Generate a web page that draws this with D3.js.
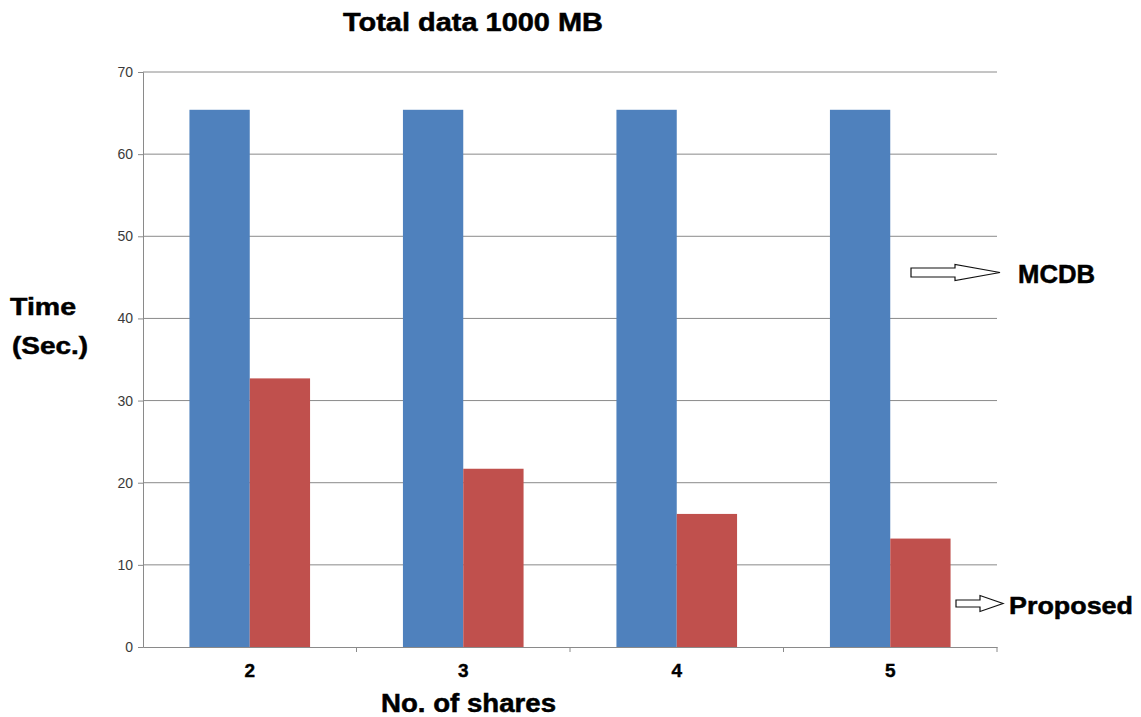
<!DOCTYPE html>
<html>
<head>
<meta charset="utf-8">
<script src="https://cdn.jsdelivr.net/npm/d3@7"></script>
<style>
  html, body { margin: 0; padding: 0; background: #fff; }
  svg text { font-family: "Liberation Sans", Arial, sans-serif; }
</style>
</head>
<body>
<svg id="chart" width="1141" height="717"></svg>
<script>
// Shares and timings (seconds) for 1000 MB of data
const shares = ["2", "3", "4", "5"];
const mcdbTimes = [65.4, 65.4, 65.4, 65.4];
const proposedTimes = [32.7, 21.7, 16.2, 13.2];
const yTicks = [0, 10, 20, 30, 40, 50, 60, 70];
const seriesNames = ["MCDB", "Proposed"];
const seriesColors = ["#4f81bd", "#c0504d"];

const svg = d3.select("#chart");
const plot = { left: 143, right: 997, top: 72, bottom: 647 };

const x = d3.scaleBand().domain(shares).range([plot.left, plot.right]).paddingInner(0).paddingOuter(0);
const y = d3.scaleLinear().domain([0, 70]).range([plot.bottom, plot.top]);
const inner = d3.scaleBand().domain(seriesNames).range([0, x.bandwidth()]).paddingOuter(0.77).paddingInner(0);

// horizontal gridlines
svg.append("g").selectAll("line").data(yTicks.filter(d => d > 0)).join("line")
  .attr("x1", plot.left).attr("x2", plot.right)
  .attr("y1", d => y(d)).attr("y2", d => y(d))
  .attr("stroke", "#8a8a8a").attr("stroke-width", 1);

// y axis
const yAxis = svg.append("g").attr("transform", `translate(${plot.left},0)`)
  .call(d3.axisLeft(y).tickValues(yTicks).tickSize(5).tickPadding(5));
yAxis.select(".domain").attr("stroke", "#8a8a8a");
yAxis.selectAll(".tick line").attr("stroke", "#8a8a8a");
yAxis.selectAll(".tick text").attr("fill", "#3a3a3a").style("font-size", "14px");

// bars
const rows = shares.map((s, i) => ({ share: s, values: [mcdbTimes[i], proposedTimes[i]] }));
const groups = svg.append("g").selectAll("g").data(rows).join("g")
  .attr("transform", d => `translate(${x(d.share)},0)`);
groups.selectAll("rect").data(d => d.values.map((v, j) => ({ name: seriesNames[j], v, j }))).join("rect")
  .attr("x", d => inner(d.name))
  .attr("width", inner.bandwidth())
  .attr("y", d => y(d.v))
  .attr("height", d => y(0) - y(d.v))
  .attr("fill", d => seriesColors[d.j]);

// x axis
const xAxis = svg.append("g").attr("transform", `translate(0,${plot.bottom})`)
  .call(d3.axisBottom(x).tickSize(0).tickPadding(16.5));
xAxis.select(".domain").attr("stroke", "#8a8a8a");
xAxis.selectAll(".tick text").attr("fill", "#000")
  .attr("stroke", "#000").attr("stroke-width", 0.4)
  .style("font-size", "19px").style("font-weight", "bold");
// category separator ticks
svg.append("g").selectAll("line").data(shares.slice(1).map(s => x(s)).concat([plot.right])).join("line")
  .attr("x1", d => d).attr("x2", d => d)
  .attr("y1", plot.bottom).attr("y2", plot.bottom + 5)
  .attr("stroke", "#8a8a8a");

// heavy bold text helper, stretched to a given width
function boldText(str, x0, yb, size, width) {
  return svg.append("text").attr("x", x0).attr("y", yb)
    .attr("textLength", width).attr("lengthAdjust", "spacingAndGlyphs")
    .attr("stroke", "#000").attr("stroke-width", 0.5)
    .style("font-size", size + "px").style("font-weight", "bold").text(str);
}

// title and axis titles
boldText("Total data 1000 MB", 343, 31, 25, 260);
boldText("Time", 10, 315, 24, 66);
boldText("(Sec.)", 12, 354, 24, 76);
boldText("No. of shares", 381, 712, 25, 175);

// series labels with outlined arrows
function arrow(x0, xs, x1, cy, hs, hh) {
  return `M${x0},${cy - hs} L${xs},${cy - hs} L${xs},${cy - hh} L${x1},${cy} L${xs},${cy + hh} L${xs},${cy + hs} L${x0},${cy + hs} Z`;
}
svg.append("path").attr("d", arrow(911, 955, 1000, 272.5, 4.5, 8))
  .attr("fill", "#fff").attr("stroke", "#111").attr("stroke-width", 1.2);
boldText(seriesNames[0], 1018, 283, 25, 77);
svg.append("path").attr("d", arrow(956, 980, 1003, 603.5, 3.5, 8))
  .attr("fill", "#fff").attr("stroke", "#111").attr("stroke-width", 1.2);
boldText(seriesNames[1], 1009, 614, 24, 124);
</script>
</body>
</html>
